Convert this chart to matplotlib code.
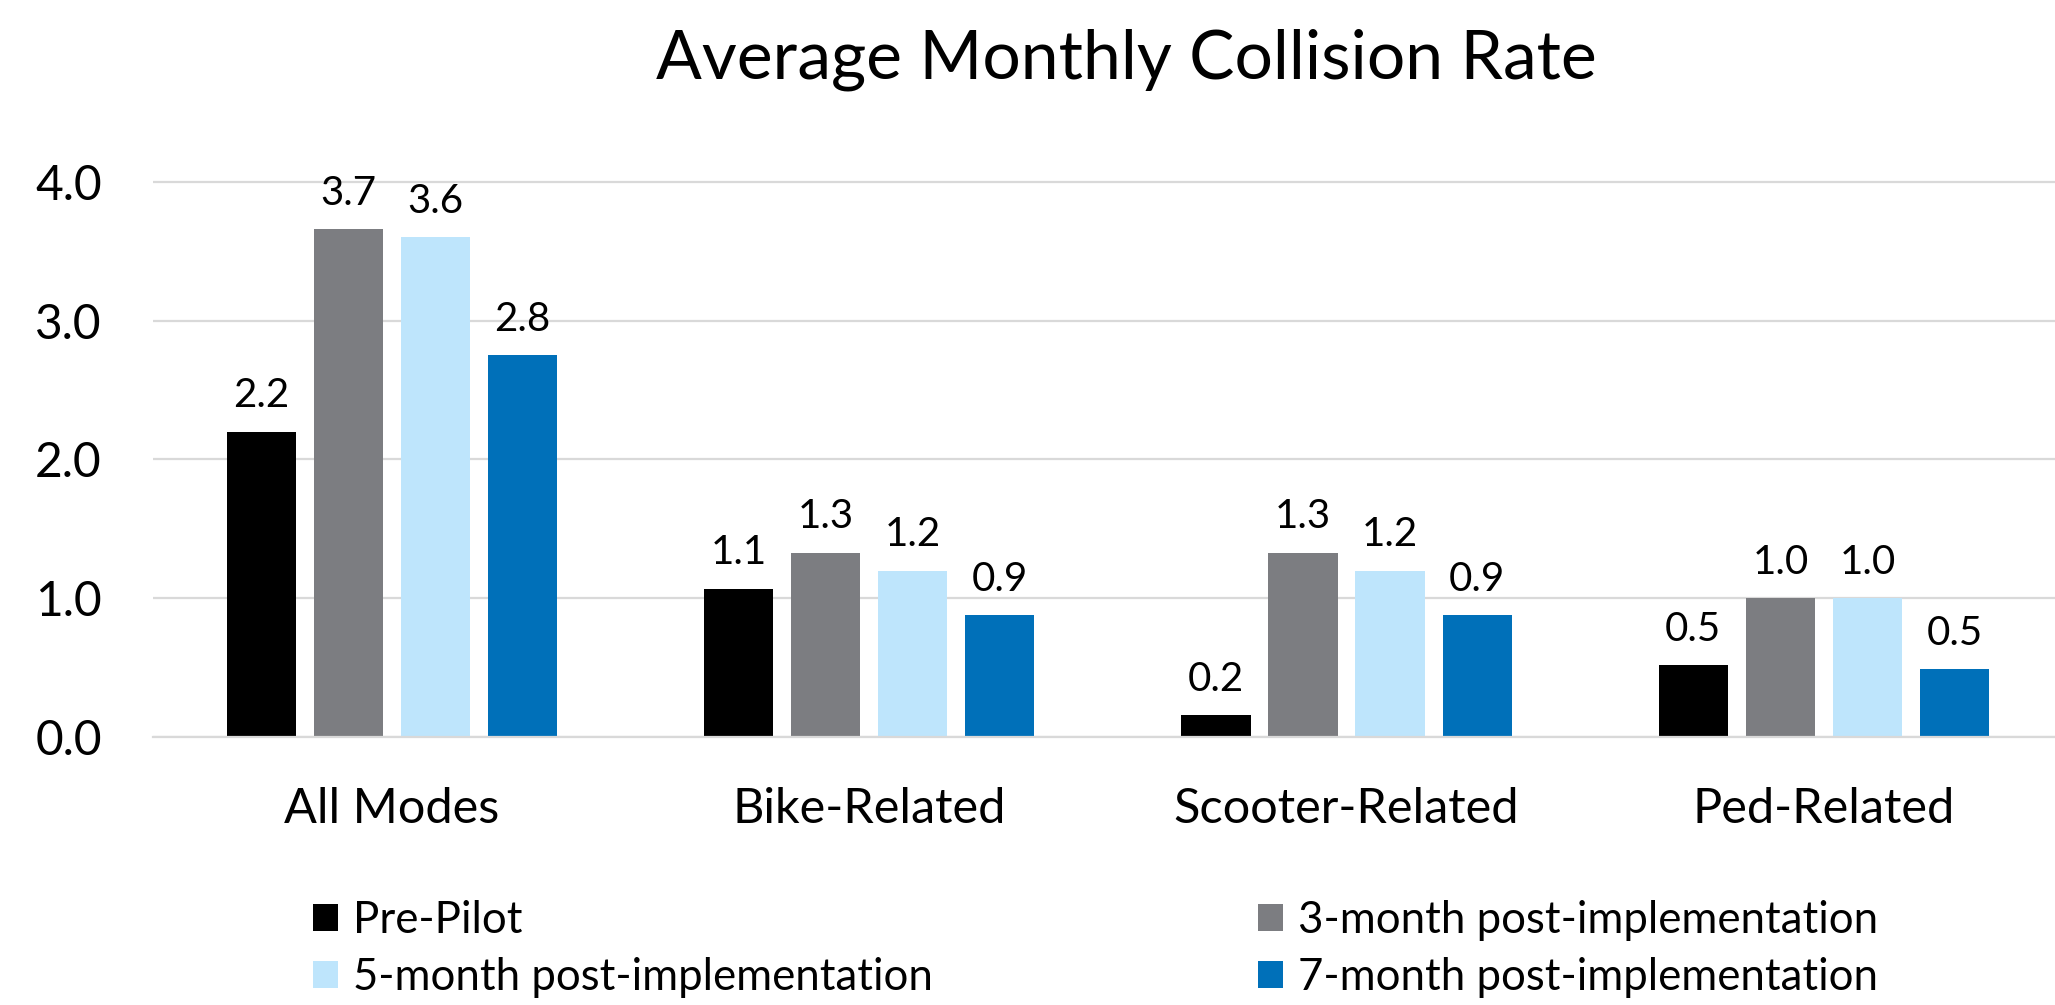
import numpy as np
import matplotlib
matplotlib.use("Agg")
import matplotlib.pyplot as plt

plt.rcParams['font.family'] = ['Lato', 'DejaVu Sans']

# data
categories = ["All Modes", "Bike-Related", "Scooter-Related", "Ped-Related"]
series_names = ["Pre-Pilot", "3-month post-implementation",
                "5-month post-implementation", "7-month post-implementation"]
pre_pilot = [2.2, 1.07, 0.16, 0.52]
month_3 = [3.66, 1.33, 1.33, 1.0]
month_5 = [3.6, 1.2, 1.2, 1.0]
month_7 = [2.75, 0.88, 0.88, 0.49]
y_ticks = [0.0, 1.0, 2.0, 3.0, 4.0]

colors = ["#000000", "#7C7D81", "#BEE5FC", "#0070B9"]
series = [pre_pilot, month_3, month_5, month_7]

fig = plt.figure(figsize=(20.55, 10.05), dpi=100)
ax = fig.add_axes([0.0745, 0.2664, 0.9255, 0.5943])

x = np.arange(len(categories))
pitch = 0.1824
width = 0.145
handles = []
for i, (vals, name, col) in enumerate(zip(series, series_names, colors)):
    offs = (i - 1.5) * pitch
    bars = ax.bar(x + offs, vals, width, color=col, label=name, zorder=2)
    handles.append(bars)
    for xi, v in zip(x + offs, vals):
        ax.annotate(f"{v:.1f}", (xi, v), xytext=(0, 12.5), textcoords="offset points",
                    ha="center", va="bottom", fontsize=29, color="#000000")

ax.set_xlim(-0.5, 3.484)
ax.set_ylim(0, 4.3)
ax.set_yticks(y_ticks)
ax.set_yticklabels([f"{t:.1f}" for t in y_ticks])
ax.set_xticks(x)
ax.set_xticklabels(categories)
ax.tick_params(axis="y", length=0, pad=37, labelsize=34.5)
ax.tick_params(axis="x", length=0, pad=36, labelsize=35)
ax.yaxis.grid(True, color="#D9D9D9", linewidth=1.6, zorder=0)
ax.set_axisbelow(True)
for s in ["top", "right", "left"]:
    ax.spines[s].set_visible(False)
ax.spines["bottom"].set_color("#D9D9D9")
ax.spines["bottom"].set_linewidth(1.6)

fig.text(0.548, 0.9214, "Average Monthly Collision Rate", ha="center",
         va="baseline", fontsize=48.8)

leg_kw = dict(loc="upper left", frameon=False, fontsize=31.5, borderpad=0,
              borderaxespad=0, handlelength=0.57, handleheight=0.57,
              handletextpad=0.35, labelspacing=0.36)
leg1 = fig.legend([handles[0], handles[2]], [series_names[0], series_names[2]],
                  bbox_to_anchor=(0.1523, 0.1045), **leg_kw)
leg2 = fig.legend([handles[1], handles[3]], [series_names[1], series_names[3]],
                  bbox_to_anchor=(0.6122, 0.1045), **leg_kw)

fig.savefig("out.png", dpi=100)
